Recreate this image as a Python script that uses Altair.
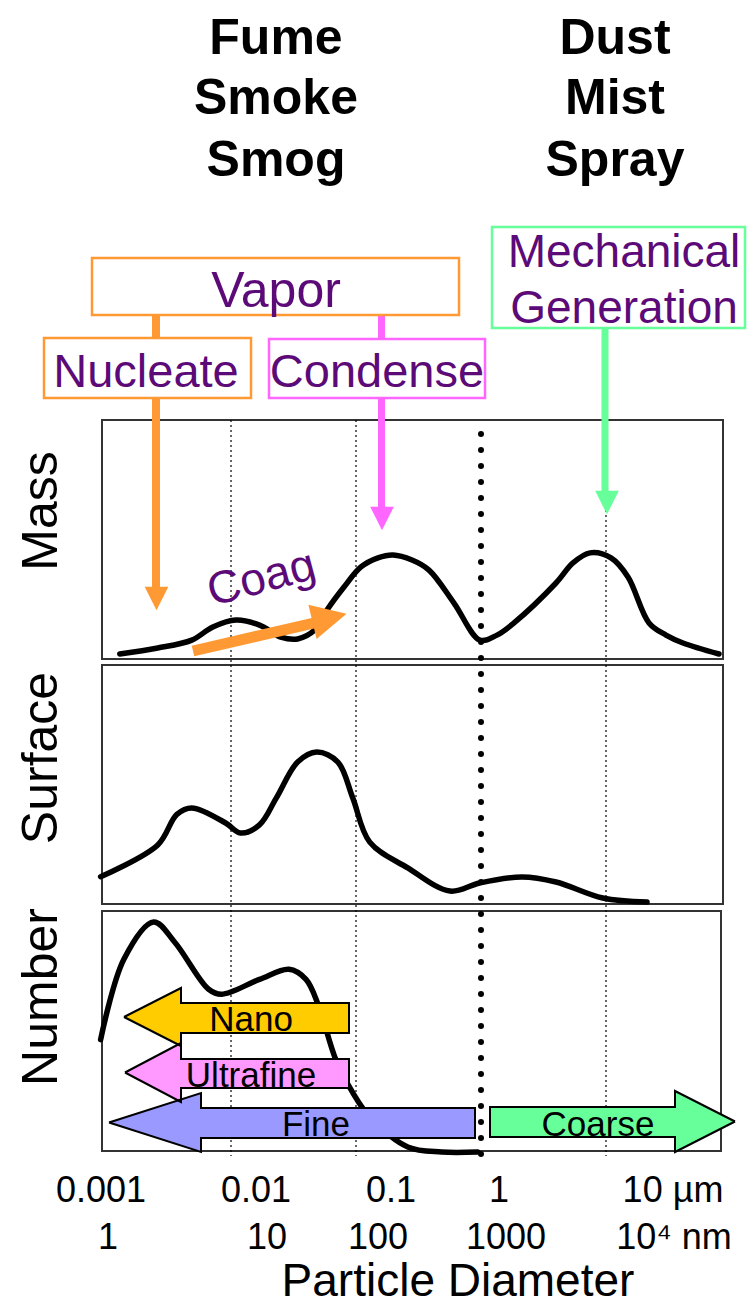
import altair as alt
import pandas as pd

FONT = "Liberation Sans"
PURPLE = "#5C0A78"
ORANGE = "#FF9933"
PINK = "#FF66FF"
GREEN = "#66FF99"

# x is log10(particle diameter in µm); y is a vertical figure coordinate (top -> bottom)
X_DOMAIN = [-3.784, 2.128]
Y_DOMAIN = [8, 1306]

# ---------------- panels ----------------
panel_names = ["Mass", "Surface", "Number"]
panel_left = [-3.032, -3.032, -3.032]
panel_right = [1.936, 1.936, 1.920]
panel_top = [420, 665, 911]
panel_bottom = [659, 904, 1151]
panel_label_x = [-3.392, -3.392, -3.392]
panel_label_y = [511, 758, 997]

# ---------------- curves (relative height 0-100 inside each panel) ----------------
mass_logd = [-2.890, -2.586, -2.314, -2.145, -1.960, -1.772, -1.602, -1.467, -1.331,
             -1.232, -1.096, -0.960, -0.824, -0.704, -0.552, -0.416, -0.216, -0.008,
             0.128, 0.264, 0.600, 0.736, 0.872, 1.040, 1.176, 1.344, 1.480, 1.616, 1.904]
mass_val = [2.1, 4.6, 7.9, 13.4, 16.3, 14.2, 9.2, 8.4, 12.1,
            20.5, 30.1, 38.5, 42.3, 43.5, 41.4, 37.2, 23.4, 7.9,
            10.0, 15.1, 31.8, 40.2, 44.4, 42.3, 34.3, 15.1, 10.0, 6.7, 2.1]

surface_logd = [-3.043, -2.586, -2.433, -2.314, -2.043, -1.925, -1.772, -1.637, -1.467,
                -1.314, -1.145, -1.026, -0.890, -0.586, -0.248, -0.010, 0.328, 0.600,
                0.974, 1.328]
surface_val = [11.4, 24.7, 37.5, 40.2, 33.9, 29.7, 33.1, 44.4, 59.4,
               63.6, 59.4, 44.4, 25.9, 15.1, 5.4, 8.8, 11.3, 9.2,
               2.5, 0.8]

number_logd = [-3.043, -2.857, -2.619, -2.450, -2.179, -2.077, -1.772, -1.536, -1.400,
               -1.298, -1.162, -1.026, -0.890, -0.586, -0.314, -0.026]
number_val = [46.4, 79.9, 95.4, 87.0, 67.4, 65.3, 71.5, 75.7, 71.5,
              60.3, 38.1, 24.3, 14.2, 1.7, -0.4, -0.4]

# ---------------- gridlines ----------------
grid_thin_logd = [-2, -1, 1]
grid_top, grid_bottom = 420, 1156
grid_thick_logd = [0]
grid_thick_top = 434

# ---------------- size-range arrows in the Number panel ----------------
arrow_names = ["Nano", "Ultrafine", "Fine", "Coarse"]
arrow_fill = ["#FFCC00", "#FF99FF", "#9999FF", "#66FF99"]
arrow_tip = [-2.856, -2.848, -2.976, 2.032]
arrow_base = [-2.400, -2.400, -2.240, 1.552]
arrow_end = [-1.056, -1.056, -0.048, 0.072]
arrow_body_top = [1003, 1059, 1108, 1107]
arrow_body_bot = [1033, 1088, 1138, 1137]
arrow_head_top = [988, 1043, 1093, 1091]
arrow_head_bot = [1046, 1102, 1152, 1152]
arrow_label_x = [-1.840, -1.840, -1.320, 0.936]
arrow_label_y = [1031, 1087, 1136, 1136]

# ---------------- annotation boxes ----------------
box_names = ["Vapor", "Nucleate", "Condense", "Mechanical Generation"]
box_left = [-3.112, -3.496, -1.696, 0.088]
box_right = [-0.176, -1.840, 0.032, 2.112]
box_top = [258, 338, 339, 227]
box_bottom = [315, 398, 398, 328]
box_color = [ORANGE, ORANGE, PINK, GREEN]

box_text = ["Vapor", "Nucleate", "Condense", "Mechanical", "Generation"]
box_text_x = [-1.640, -2.680, -0.832, 1.144, 1.144]
box_text_y = [307, 387, 387, 267, 323]
box_text_size = [50, 47, 47, 46, 46]

# vertical arrows (shafts + heads)
shaft_x = [-2.600, -0.796, 0.992]
shaft_top = [315, 315, 328]
shaft_bottom = [590, 510, 494]
shaft_color = [ORANGE, PINK, GREEN]
shaft_width = [8, 7, 7]
head_x = [-2.596, -0.792, 1.008]
head_y = [598.5, 518.5, 502.5]

# coagulation arrow
coag_x = [-2.304, -1.336]
coag_y = [651, 623]
coag_head_x = [-1.212]
coag_head_y = [617.8]

# ---------------- texts ----------------
header_text = ["Fume", "Smoke", "Smog", "Dust", "Mist", "Spray"]
header_x = [-1.640, -1.640, -1.640, 1.072, 1.072, 1.072]
header_y = [54, 114, 176, 54, 114, 176]

tick_um = ["0.001", "0.01", "0.1", "1", "10  µm"]
tick_um_x = [-3.040, -1.800, -0.720, 0.144, 1.536]
tick_nm = ["1", "10", "100", "1000", "10⁴ nm"]
tick_nm_x = [-2.984, -1.712, -0.824, 0.200, 1.544]
tick_um_y, tick_nm_y = 1202, 1249
x_title = "Particle Diameter"
x_title_pos = (-0.184, 1296)


def X(f="x"):
    return alt.X(f + ":Q", scale=alt.Scale(domain=X_DOMAIN, nice=False, zero=False), axis=None)


def Y(f="y"):
    return alt.Y(f + ":Q", scale=alt.Scale(domain=Y_DOMAIN, reverse=True, nice=False, zero=False),
                 axis=None)


# panels
panels_df = pd.DataFrame({"x": panel_left, "x2": panel_right, "y": panel_top, "y2": panel_bottom})
panels = alt.Chart(panels_df).mark_rect(fill="white", stroke="#333333", strokeWidth=2).encode(
    x=X(), x2="x2:Q", y=Y(), y2="y2:Q")

grid_df = pd.DataFrame({"x": grid_thin_logd, "y": grid_top, "y2": grid_bottom})
grid = alt.Chart(grid_df).mark_rule(color="black", strokeWidth=1.2, strokeDash=[2, 3]).encode(
    x=X(), y=Y(), y2="y2:Q")

thick_df = pd.DataFrame({"x": grid_thick_logd, "y": grid_thick_top, "y2": grid_bottom})
thick = alt.Chart(thick_df).mark_rule(color="black", strokeWidth=6, strokeCap="round",
                                      strokeDash=[0.1, 15.9]).encode(x=X(), y=Y(), y2="y2:Q")

# curves
rows = []
for name, top, bot, ls, vs in [("Mass", panel_top[0], panel_bottom[0], mass_logd, mass_val),
                               ("Surface", panel_top[1], panel_bottom[1], surface_logd, surface_val),
                               ("Number", panel_top[2], panel_bottom[2], number_logd, number_val)]:
    for l, v in zip(ls, vs):
        rows.append({"panel": name, "x": l, "y": bot - v / 100.0 * (bot - top)})
curves_df = pd.DataFrame(rows)
curves = alt.Chart(curves_df).mark_line(color="black", strokeWidth=5.5, interpolate="catmull-rom",
                                        strokeCap="round").encode(
    x=X(), y=Y(), detail="panel:N")

# size arrows
body_df = pd.DataFrame({"name": arrow_names, "c": arrow_fill, "x": arrow_base, "x2": arrow_end,
                        "y": arrow_body_top, "y2": arrow_body_bot})
bodies = alt.Chart(body_df).mark_rect().encode(
    x=X(), x2="x2:Q", y=Y(), y2="y2:Q", color=alt.Color("c:N", scale=None))

head_rows = []
outline_rows = []
for i, n in enumerate(arrow_names):
    mid = (arrow_head_top[i] + arrow_head_bot[i]) / 2.0
    head_rows.append({"name": n, "c": arrow_fill[i], "x": arrow_base[i], "y": arrow_head_top[i],
                      "y2": arrow_head_bot[i]})
    head_rows.append({"name": n, "c": arrow_fill[i], "x": arrow_tip[i], "y": mid, "y2": mid})
    pts = [(arrow_tip[i], mid), (arrow_base[i], arrow_head_top[i]), (arrow_base[i], arrow_body_top[i]),
           (arrow_end[i], arrow_body_top[i]), (arrow_end[i], arrow_body_bot[i]),
           (arrow_base[i], arrow_body_bot[i]), (arrow_base[i], arrow_head_bot[i]), (arrow_tip[i], mid)]
    for k, (px, py) in enumerate(pts):
        outline_rows.append({"name": n, "o": k, "x": px, "y": py})
heads = alt.Chart(pd.DataFrame(head_rows)).mark_area().encode(
    x=X(), y=alt.Y("y:Q", scale=alt.Scale(domain=Y_DOMAIN, reverse=True, nice=False, zero=False),
                   axis=None, stack=None),
    y2="y2:Q", detail="name:N", color=alt.Color("c:N", scale=None))
outlines = alt.Chart(pd.DataFrame(outline_rows)).mark_line(color="black", strokeWidth=2,
                                                           strokeJoin="miter").encode(
    x=X(), y=Y(), order="o:Q", detail="name:N")

# vertical shafts
shaft_df = pd.DataFrame({"x": shaft_x, "y": shaft_top, "y2": shaft_bottom, "c": shaft_color,
                         "w": shaft_width})
shafts = alt.Chart(shaft_df).mark_rule().encode(
    x=X(), y=Y(), y2="y2:Q", color=alt.Color("c:N", scale=None),
    strokeWidth=alt.StrokeWidth("w:Q", scale=None))

boxes_df = pd.DataFrame({"x": box_left, "x2": box_right, "y": box_top, "y2": box_bottom,
                         "c": box_color})
boxes = alt.Chart(boxes_df).mark_rect(fill="white", strokeWidth=2.5).encode(
    x=X(), x2="x2:Q", y=Y(), y2="y2:Q", stroke=alt.Stroke("c:N", scale=None))

vheads_df = pd.DataFrame({"x": head_x, "y": head_y, "c": shaft_color})
vheads = alt.Chart(vheads_df).mark_point(shape="M-1,-1L1,-1L0,1Z", size=560, filled=True,
                                         opacity=1, strokeWidth=0).encode(
    x=X(), y=Y(), color=alt.Color("c:N", scale=None))

coag_df = pd.DataFrame({"x": [coag_x[0]], "x2": [coag_x[1]], "y": [coag_y[0]], "y2": [coag_y[1]]})
coag_shaft = alt.Chart(coag_df).mark_rule(color=ORANGE, strokeWidth=11, strokeCap="butt").encode(
    x=X(), x2="x2:Q", y=Y(), y2="y2:Q")
coag_head = alt.Chart(pd.DataFrame({"x": coag_head_x, "y": coag_head_y})).mark_point(
    shape="M1,0L-1,-1L-1,1Z", size=1225, filled=True, opacity=1, strokeWidth=0, color=ORANGE,
    angle=346.5).encode(x=X(), y=Y())

# text
trows = []
for t, x, y, s in zip(box_text, box_text_x, box_text_y, box_text_size):
    trows.append({"t": t, "x": x, "y": y, "fs": s, "c": PURPLE, "a": 0})
for t, x in zip(tick_um, tick_um_x):
    trows.append({"t": t, "x": x, "y": tick_um_y, "fs": 36, "c": "black", "a": 0})
for t, x in zip(tick_nm, tick_nm_x):
    trows.append({"t": t, "x": x, "y": tick_nm_y, "fs": 36, "c": "black", "a": 0})
trows.append({"t": x_title, "x": x_title_pos[0], "y": x_title_pos[1], "fs": 46, "c": "black", "a": 0})
for t, x, y in zip(arrow_names, arrow_label_x, arrow_label_y):
    trows.append({"t": t, "x": x, "y": y, "fs": 35, "c": "black", "a": 0})
for t, x, y in zip(panel_names, panel_label_x, panel_label_y):
    trows.append({"t": t, "x": x, "y": y, "fs": 50, "c": "black", "a": 270})
trows.append({"t": "Coag", "x": -1.728, "y": 592, "fs": 46, "c": PURPLE, "a": 345})
texts = alt.Chart(pd.DataFrame(trows)).mark_text(font=FONT, align="center",
                                                 baseline="alphabetic").encode(
    x=X(), y=Y(), text="t:N", size=alt.Size("fs:Q", scale=None),
    color=alt.Color("c:N", scale=None), angle=alt.Angle("a:Q", scale=None))

headers = alt.Chart(pd.DataFrame({"t": header_text, "x": header_x, "y": header_y})).mark_text(
    font=FONT, fontSize=50, fontWeight="bold", align="center", baseline="alphabetic",
    color="black").encode(x=X(), y=Y(), text="t:N")

chart = alt.layer(
    panels, grid, curves, thick, heads, bodies, outlines, shafts, boxes, vheads,
    coag_shaft, coag_head, texts, headers
).properties(
    width=739, height=1298, padding=0, autosize=alt.AutoSizeParams(type="none"),
    background="white"
).configure_view(stroke=None)

chart.save("out.html", embed_options={"renderer": "svg", "actions": False})
